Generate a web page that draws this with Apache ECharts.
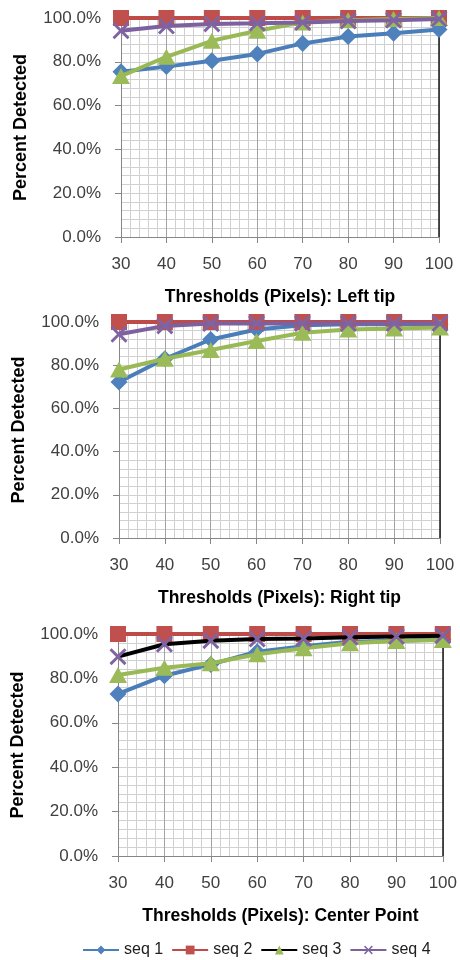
<!DOCTYPE html>
<html>
<head>
<meta charset="utf-8">
<script src="https://cdn.jsdelivr.net/npm/echarts@6/dist/echarts.min.js"></script>
<style>
  html, body { margin: 0; padding: 0; background: #fff; }
  #chart { width: 460px; height: 960px; }
</style>
</head>
<body>
<div id="chart"></div>
<script>
// Threshold values on the x axis (pixels)
const thresholds = [30, 40, 50, 60, 70, 80, 90, 100];
const seriesNames = ['seq 1', 'seq 2', 'seq 3', 'seq 4'];
const panelTitles = [
  'Thresholds (Pixels): Left tip',
  'Thresholds (Pixels): Right tip',
  'Thresholds (Pixels): Center Point'
];
const yTitle = 'Percent Detected';

// Percent detected, left tip
const leftSeq1 = [75.5, 77.8, 80.5, 83.6, 88.4, 91.5, 93.0, 94.8];
const leftSeq2 = [100, 100, 100, 100, 100, 100, 100, 100];
const leftSeq3 = [73.5, 82.3, 89.6, 94.2, 98.0, 99.0, 99.5, 100];
const leftSeq4 = [94.2, 96.3, 97.3, 97.6, 98.0, 98.6, 99.0, 99.5];

// Percent detected, right tip
const rightSeq1 = [72.2, 83.0, 91.9, 96.5, 98.5, 99.0, 99.0, 99.0];
const rightSeq2 = [100, 100, 100, 100, 100, 100, 100, 100];
const rightSeq3 = [78.0, 83.0, 87.0, 91.2, 95.0, 96.5, 97.0, 97.5];
const rightSeq4 = [94.3, 98.2, 99.3, 99.3, 99.3, 99.3, 99.3, 99.3];

// Percent detected, center point
const centerSeq1 = [73.0, 81.2, 86.3, 92.0, 94.5, 96.5, 97.0, 97.5];
const centerSeq2 = [100, 100, 100, 100, 100, 100, 100, 100];
const centerSeq3 = [81.5, 84.8, 86.8, 90.9, 93.6, 95.8, 96.8, 97.3];
const centerSeq4 = [89.8, 95.4, 97.0, 97.7, 98.0, 98.5, 98.9, 99.2];

const panels = [
  [leftSeq1, leftSeq2, leftSeq3, leftSeq4],
  [rightSeq1, rightSeq2, rightSeq3, rightSeq4],
  [centerSeq1, centerSeq2, centerSeq3, centerSeq4]
];

// Plot-area boxes for the three stacked panels
const grids = [
  { left: 121, top: 18, width: 318, height: 219 },
  { left: 119, top: 322, width: 321, height: 216 },
  { left: 118, top: 634, width: 326, height: 222 }
];

const FONT = '"Liberation Sans", Arial, sans-serif';
const lineColors = ['#4A7EBB', '#BE4B48', '#98B954', '#7D60A0'];
const markColors = ['#4F81BD', '#C0504D', '#9BBB59', '#8064A2'];
const xMark = 'path://M0,1.2 L1.2,0 L5,3.8 L8.8,0 L10,1.2 L6.2,5 L10,8.8 L8.8,10 L5,6.2 L1.2,10 L0,8.8 L3.8,5 Z';
const symbols = ['diamond', 'rect', 'triangle', xMark];
const symbolSizes = [[17, 17], 16, [18, 16], 17];

const xAxes = grids.map((g, i) => ({
  type: 'value', gridIndex: i, min: 30, max: 100, interval: 10,
  name: panelTitles[i], nameLocation: 'middle', nameGap: 51,
  nameTextStyle: { fontFamily: FONT, fontSize: 17.5, fontWeight: 'bold', color: '#000' },
  axisLine: { show: true, lineStyle: { color: '#868686', width: 1 } },
  axisTick: { show: true, length: 6, lineStyle: { color: '#868686' } },
  axisLabel: { fontFamily: FONT, fontSize: 17, color: '#404040', margin: 19 },
  splitLine: { show: true, lineStyle: { color: '#a3a3a3', width: 1 } },
  minorTick: { show: false, splitNumber: 5 },
  minorSplitLine: { show: true, lineStyle: { color: '#d0d0d0', width: 1 } }
}));

const yAxes = grids.map((g, i) => ({
  type: 'value', gridIndex: i, min: 0, max: 100, interval: 20,
  name: yTitle, nameLocation: 'middle', nameRotate: 90, nameGap: 91,
  nameTextStyle: { fontFamily: FONT, fontSize: 18, fontWeight: 'bold', color: '#000' },
  axisLine: { show: true, lineStyle: { color: '#868686', width: 1 } },
  axisTick: { show: true, length: 6, lineStyle: { color: '#868686' } },
  axisLabel: { fontFamily: FONT, fontSize: 17, color: '#404040', margin: 20,
    formatter: v => v.toFixed(1) + '%' },
  splitLine: { show: true, lineStyle: { color: '#d0d0d0', width: 1 } },
  minorTick: { show: false, splitNumber: 5 },
  minorSplitLine: { show: true, lineStyle: { color: '#d0d0d0', width: 1 } }
}));

// dark right-hand frame edge of each plot area
grids.forEach((g, i) => {
  yAxes.push({
    type: 'value', gridIndex: i, position: 'right', min: 0, max: 100,
    axisLine: { show: true, lineStyle: { color: '#1a1a1a', width: 1.5 } },
    axisTick: { show: false }, axisLabel: { show: false }, splitLine: { show: false }
  });
});

const series = [];
panels.forEach((vals, p) => {
  vals.forEach((arr, s) => {
    // in the center-point panel the seq 4 line is drawn in black
    const lc = (p === 2 && s === 3) ? '#000000' : lineColors[s];
    series.push({
      type: 'line', name: seriesNames[s], xAxisIndex: p, yAxisIndex: p,
      data: thresholds.map((t, k) => [t, arr[k]]),
      symbol: symbols[s], symbolSize: symbolSizes[s], showAllSymbol: true,
      lineStyle: { color: lc, width: 4 },
      itemStyle: { color: markColors[s] },
      emphasis: { disabled: true },
      animation: false, z: 2 + s
    });
  });
});

const chart = echarts.init(document.getElementById('chart'));
chart.setOption({
  animation: false,
  grid: grids,
  xAxis: xAxes,
  yAxis: yAxes,
  legend: {
    left: 82, top: 942, width: 378, padding: 0, itemWidth: 36, itemHeight: 11, itemGap: 8,
    textStyle: { fontFamily: FONT, fontSize: 16, color: '#202020' },
    data: [
      { name: 'seq 1' },
      { name: 'seq 2' },
      { name: 'seq 3', lineStyle: { color: '#000000' }, itemStyle: { color: markColors[2] } },
      { name: 'seq 4' }
    ]
  },
  series: series
});
</script>
</body>
</html>
